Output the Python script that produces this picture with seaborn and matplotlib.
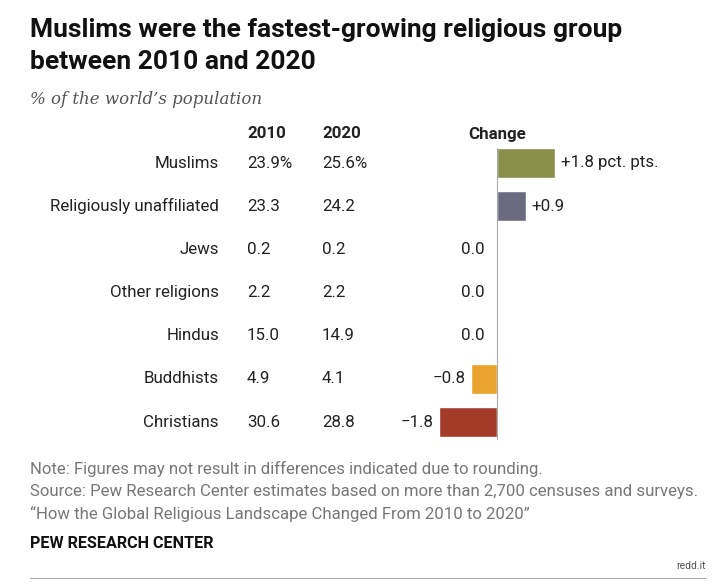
import matplotlib
matplotlib.use("Agg")
import matplotlib.pyplot as plt
import seaborn as sns
import pandas as pd

groups = ["Muslims", "Religiously unaffiliated", "Jews", "Other religions", "Hindus", "Buddhists", "Christians"]
v2010 = ["23.9%", "23.3", "0.2", "2.2", "15.0", "4.9", "30.6"]
v2020 = ["25.6%", "24.2", "0.2", "2.2", "14.9", "4.1", "28.8"]
change = [1.8, 0.9, 0.0, 0.0, 0.0, -0.8, -1.8]
change_labels = ["+1.8 pct. pts.", "+0.9", "0.0", "0.0", "0.0", "\u22120.8", "\u22121.8"]
colors = ["#8a8f4a", "#6c6a80", "#999999", "#999999", "#999999", "#eaa32c", "#a43a28"]

sns.set_theme(style="white")
plt.rcParams['font.family'] = ['Roboto', 'DejaVu Sans']

W, H = 717, 583
fig = plt.figure(figsize=(W/100, H/100), dpi=100)
fig.patch.set_facecolor("white")

def px(x, y):
    return x / W, 1 - y / H

FS = 12.2
ax = fig.add_axes([380/W, 1-443.6/H, 320/W, 302.2/H])
df = pd.DataFrame({"g": groups, "c": change})
sns.barplot(data=df, y="g", x="c", hue="g", palette=colors, orient="h",
            width=0.68, ax=ax, legend=False, saturation=1)
ax.set_xlim(-117/32, 203/32)
ax.set_ylim(6.5, -0.5)
ax.axis("off")
ax.plot([0, 0], [6.4, -0.35], color="#aaaaaa", lw=0.8)

for i, (c, lab) in enumerate(zip(change, change_labels)):
    if c > 0:
        ax.text(c + 6/32, i, lab, ha="left", va="center", fontsize=FS, color="#222222")
    elif c < 0:
        ax.text(c - 6/32, i, lab, ha="right", va="center", fontsize=FS, color="#222222")
    else:
        ax.text(-12/32, i, lab, ha="right", va="center", fontsize=FS, color="#222222")

row_y = [163 + 43.17 * i for i in range(7)]
for i in range(7):
    fig.text(*px(219, row_y[i]), groups[i], ha="right", va="center", fontsize=FS, color="#222222")
    fig.text(*px(247, row_y[i]), v2010[i], ha="left", va="center", fontsize=FS, color="#222222")
    fig.text(*px(322, row_y[i]), v2020[i], ha="left", va="center", fontsize=FS, color="#222222")

fig.text(*px(247, 134), "2010", ha="left", va="center", fontsize=FS, fontweight="bold", color="#222222")
fig.text(*px(322, 134), "2020", ha="left", va="center", fontsize=FS, fontweight="bold", color="#222222")
fig.text(*px(497, 134), "Change", ha="center", va="center", fontsize=FS, fontweight="bold", color="#222222")

fig.text(*px(30, 30), "Muslims were the fastest-growing religious group", ha="left", va="center",
         fontsize=19, fontweight="bold", color="#111111")
fig.text(*px(30, 62), "between 2010 and 2020", ha="left", va="center",
         fontsize=19, fontweight="bold", color="#111111")
fig.text(*px(30, 99), "% of the world\u2019s population", ha="left", va="center",
         fontsize=12, fontstyle="italic", family="DejaVu Serif", color="#555555")

notes = ["Note: Figures may not result in differences indicated due to rounding.",
         "Source: Pew Research Center estimates based on more than 2,700 censuses and surveys.",
         "\u201cHow the Global Religious Landscape Changed From 2010 to 2020\u201d"]
for j, n in enumerate(notes):
    fig.text(*px(30, 469 + 22.5 * j), n, ha="left", va="center", fontsize=12.1, color="#777777")
fig.text(*px(30, 544), "PEW RESEARCH CENTER", ha="left", va="center", fontsize=11.6,
         fontweight="bold", color="#111111")
fig.text(*px(706, 566), "redd.it", ha="right", va="center", fontsize=7.5, color="#555555")
fig.add_artist(plt.Line2D([30/W, 706/W], [1-578/H, 1-578/H], color="#aaaaaa", lw=0.8))

fig.savefig("out.png", dpi=100, facecolor="white")
